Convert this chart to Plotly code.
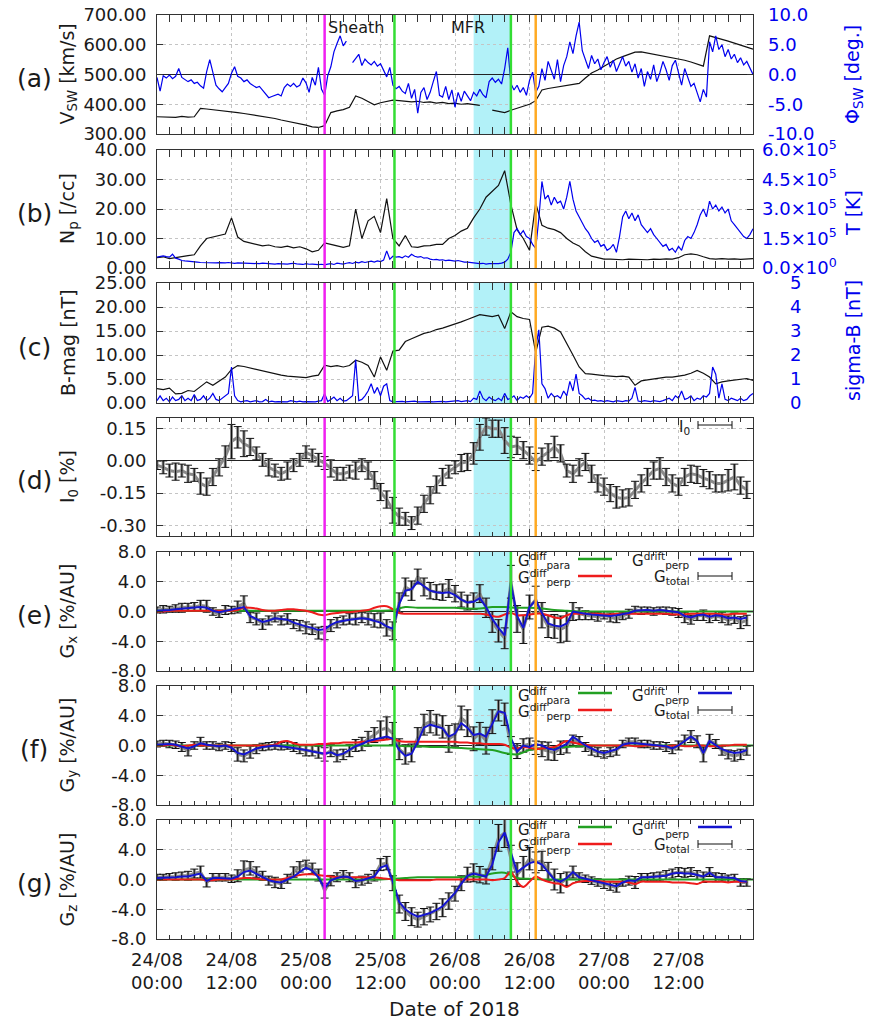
import pandas as pd
import plotly.graph_objects as go

START = pd.Timestamp("2018-08-24 00:00")
END = pd.Timestamp("2018-08-28 00:00")

# ---------------- event markers ----------------
t_sheath = "2018-08-25 03:00"      # magenta
t_mfr_start = "2018-08-25 14:15"   # green
t_mfr_end = "2018-08-26 09:00"     # green
t_orange = "2018-08-26 13:00"      # orange
cyan_start = "2018-08-26 03:00"
cyan_end = "2018-08-26 09:00"

# ---------------- x ticks ----------------
x_tick_times = ["2018-08-24 00:00", "2018-08-24 12:00", "2018-08-25 00:00", "2018-08-25 12:00",
                "2018-08-26 00:00", "2018-08-26 12:00", "2018-08-27 00:00", "2018-08-27 12:00"]
x_tick_text = ["24/08<br>00:00", "24/08<br>12:00", "25/08<br>00:00", "25/08<br>12:00",
               "26/08<br>00:00", "26/08<br>12:00", "27/08<br>00:00", "27/08<br>12:00"]

# ---------------- panel (a): hourly V_sw, half-hourly Phi ----------------
v_sw = [358, 357, 358, 356, 359, 357, 358, 386, 384, 382,
        380, 378, 376, 372, 369, 366, 362, 358, 355, 352,
        347, 343, 339, 335, 330, 324, 322, 328, 372, 378,
        382, 390, 428, 420, 408, 398, 405, 410, 414, 412,
        410, 408, 410, 406, 408, 404, 406, 402, 404, 400,
        402, 398, 396, None, 380, 375, 372, 380, 386, 392,
        400, 412, 448, 453, 456, 459, 462, 466, 470, 488,
        505, 515, 528, 540, 552, 560, 568, 575, 576, 572,
        568, 565, 560, 557, 554, 548, 542, 536, 528, 630,
        625, 618, 612, 606, 600, 592, 585]

phi_sw = [-0.5, -2.8, -0.2, -0.6, -0.1, -0.7, -0.3, 1.0, -0.5, -0.8,
          -1.2, -0.9, -1.5, -1.3, -1.9, -2.3, 0.5, 2.5, 0.2, -1.8,
          -2.4, -2.9, -2.2, -1.5, 0.2, 1.3, -0.3, -0.6, -1.2, -0.9,
          -1.5, -1.8, -2.2, -2.0, -2.6, -3.3, -3.9, -3.7, -3.5, -3.3,
          -3.6, -2.2, -1.6, -2.0, -1.5, -2.1, -1.8, -0.6, -1.4, -3.0,
          -0.5, -1.8, 1.2, -2.5, -3.5, -0.2, 1.3, 3.8, 5.2, 6.5,
          4.8, 5.6, None, 2.0, 2.8, 3.4, 1.5, 2.6, 2.0, 1.6,
          2.2, 1.4, 1.8, 0.6, -0.4, 1.2, -1.8, -2.4, -2.0, -2.8,
          -3.2, -1.5, -4.0, -2.5, -6.5, -3.0, -2.2, -4.2, -3.0, -1.2,
          0.5, -3.5, -3.8, -2.0, -4.2, -2.6, -5.5, -3.0, -4.5, -2.8,
          -3.6, -4.4, -3.0, -3.6, -2.5, -3.4, -3.9, -1.2, -0.6, -1.3,
          -0.8, -1.6, 1.0, 4.5, -1.5, -2.6, -1.8, -3.0, -2.2, -3.5,
          -1.0, 0.4, -3.0, -2.0, 1.0, -1.0, 2.2, 0.5, -0.8, 2.5,
          -1.2, 1.5, 3.0, 5.5, 3.5, 6.5, 8.8, 4.0, 2.5, 1.0,
          3.2, 1.8, 2.6, 0.8, 2.0, 3.0, 1.2, 2.4, 0.5, 1.8,
          3.0, 1.4, 2.2, 0.4, 1.8, -0.6, 1.0, -2.0, 0.5, -0.8,
          1.6, -1.2, 0.3, 2.2, 0.8, -1.0, 1.5, 2.4, 0.2, -1.8,
          1.0, -0.5, -2.0, -1.5, -3.0, -4.6, -2.5, -3.8, 5.5, 3.8,
          6.5, 4.2, 5.0, 3.0, 4.2, 2.6, 3.4, 2.0, 2.8, 1.6,
          2.2, 1.0, 0.0]

# ---------------- panel (b): hourly Np, half-hourly T (x 1e5 K) ----------------
n_p = [3.5, 3.8, 3.2, 3.6, 4.0, 4.2, 4.5, 7.5, 10.0, 10.5,
       11.0, 11.5, 17.0, 10.5, 9.0, 8.5, 7.8, 7.5, 7.8, 7.2,
       7.0, 7.4, 6.8, 7.2, 6.5, 5.5, 6.0, 8.5, 8.0, 7.5,
       7.0, 7.5, 20.0, 10.0, 16.0, 17.5, 12.0, 23.5, 10.0, 7.5,
       11.0, 7.2, 7.0, 7.5, 7.6, 8.0, 8.0, 10.0, 11.0, 12.5,
       13.5, 17.0, 20.0, 24.0, 26.0, 28.0, 33.0, 21.5, 13.0, 10.0,
       6.0, 22.0, 14.5, 13.5, 13.0, 12.0, 10.0, 8.5, 7.5, 5.5,
       4.0, 3.5, 3.0, 3.0, 2.9, 2.8, 3.0, 2.9, 3.0, 2.8,
       3.0, 2.9, 3.1, 3.0, 3.5, 4.5, 4.8, 4.5, 3.8, 3.2,
       3.0, 3.2, 3.0, 3.1, 2.9, 3.0, 3.2]

temp_1e5 = [0.55, 0.6, 0.62, 0.58, 0.55, 0.7, 0.5, 0.45, 0.38, 0.36,
            0.35, 0.33, 0.34, 0.3, 0.28, 0.27, 0.26, 0.28, 0.25, 0.26,
            0.27, 0.25, 0.26, 0.28, 0.25, 0.24, 0.26, 0.25, 0.27, 0.24,
            0.25, 0.23, 0.24, 0.22, 0.25, 0.23, 0.24, 0.22, 0.2, 0.22,
            0.21, 0.23, 0.2, 0.22, 0.24, 0.21, 0.2, 0.18, 0.22, 0.19,
            0.2, 0.18, 0.17, 0.19, 0.16, 0.2, 0.22, 0.18, 0.25, 0.22,
            0.2, 0.24, 0.27, 0.23, 0.3, 0.26, 0.32, 0.28, 0.3, 0.35,
            0.3, 0.36, 0.33, 0.4, 0.87, 0.45, 0.6, 0.55, 0.58, 0.52,
            0.62, 0.55, 0.7, 0.6, 0.55, 0.58, 0.5, 0.52, 0.45, 0.42,
            0.44, 0.4, 0.42, 0.38, 0.4, 0.36, 0.35, 0.38, 0.32, 0.3,
            0.3, 0.28, 0.25, 0.23, 0.22, 0.24, 0.2, 0.22, 0.21, 0.23,
            0.22, 0.25, 0.3, 0.45, 0.8, 1.8, 2.0, 1.7, 1.9, 1.6,
            1.5, 1.2, 1.0, 2.5, 4.4, 3.5, 3.7, 3.2, 3.6, 3.3,
            3.4, 3.0, 3.6, 4.4, 3.5, 2.9, 2.6, 2.3, 2.0, 1.8,
            1.5, 1.3, 1.4, 1.1, 1.2, 0.9, 1.0, 1.2, 0.8, 1.6,
            2.6, 2.9, 2.5, 2.8, 2.4, 2.7, 2.2, 2.0, 1.8, 2.0,
            1.7, 1.5, 1.3, 1.1, 1.2, 0.9, 1.0, 0.8, 1.1, 0.9,
            1.4, 1.6, 1.5, 1.8, 2.2, 2.7, 3.0, 2.6, 3.4, 3.0,
            3.2, 2.9, 3.1, 2.8, 3.0, 2.4, 2.2, 2.0, 1.8, 1.6,
            1.5, 1.7, 2.0]

# ---------------- panel (c): hourly B, half-hourly sigma-B ----------------
b_mag = [3.0, 2.8, 3.1, 1.9, 2.0, 2.6, 2.4, 3.5, 4.4, 3.7,
         4.5, 5.4, 7.0, 7.8, 7.6, 7.3, 6.9, 6.6, 6.3, 6.1,
         5.8, 5.6, 5.5, 5.4, 5.3, 5.6, 5.8, 7.9, 7.6, 7.8,
         7.5, 7.8, 8.9, 8.5, 7.8, 5.4, 9.6, 6.8, 10.8, 11.0,
         12.8, 13.4, 14.0, 14.5, 14.8, 15.3, 15.6, 16.0, 16.4, 16.9,
         17.4, 17.9, 18.4, 18.2, 18.0, 18.3, 15.5, 19.0, 18.0, 17.6,
         17.4, 10.5, 15.8, 16.0, 15.6, 14.8, 12.5, 10.0, 7.5, 6.1,
         6.0, 5.8, 5.7, 5.6, 5.5, 5.6, 5.4, 3.7, 4.6, 4.8,
         5.0, 5.2, 5.4, 5.4, 5.6, 5.8, 6.2, 6.8, 6.2, 5.4,
         4.0, 4.4, 4.6, 4.8, 5.0, 5.1, 4.7]

sigma_b = [0.1, 0.3, 0.1, 0.2, 0.05, 0.25, 0.1, 0.15, 0.3, 0.1,
           0.2, 0.1, 0.35, 0.1, 0.15, 0.3, 0.1, 0.2, 0.4, 0.15,
           0.1, 0.2, 0.3, 0.4, 1.5, 0.3, 0.1, 0.05, 0.08, 0.1,
           0.05, 0.08, 0.1, 0.05, 0.06, 0.15, 0.05, 0.08, 0.05, 0.06,
           0.05, 0.07, 0.05, 0.1, 0.06, 0.05, 0.08, 0.05, 0.06, 0.05,
           0.06, 0.05, 0.08, 0.1, 0.4, 0.06, 0.15, 0.25, 0.1, 0.2,
           0.08, 0.1, 0.2, 0.3, 1.8, 0.1, 0.15, 0.3, 0.5, 0.8,
           0.4, 0.65, 0.3, 0.7, 0.8, 0.1, 0.05, 0.06, 0.05, 0.07,
           0.05, 0.06, 0.05, 0.08, 0.05, 0.06, 0.05, 0.05, 0.06, 0.05,
           0.06, 0.05, 0.07, 0.05, 0.06, 0.05, 0.08, 0.1, 0.06, 0.08,
           0.1, 0.06, 0.2, 0.15, 0.5, 0.2, 0.1, 0.25, 0.15, 0.1,
           0.2, 0.1, 0.4, 0.15, 0.2, 0.3, 0.1, 0.25, 0.2, 0.3,
           0.2, 0.4, 2.3, 3.05, 0.8, 0.6, 0.2, 0.4, 0.25, 0.3,
           0.2, 0.5, 0.3, 0.9, 0.5, 1.2, 0.4, 0.3, 0.15, 0.2,
           0.1, 0.12, 0.08, 0.1, 0.06, 0.1, 0.08, 0.05, 0.1, 0.08,
           0.06, 0.1, 0.08, 0.2, 0.65, 0.08, 0.06, 0.1, 0.08, 0.06,
           0.1, 0.08, 0.06, 0.1, 0.15, 0.2, 0.1, 0.3, 0.2, 0.5,
           0.15, 0.2, 0.3, 0.1, 0.2, 0.15, 0.3, 0.25, 0.4, 1.5,
           1.2, 0.2, 0.8, 0.15, 0.1, 0.2, 0.15, 0.1, 0.2, 0.1,
           0.15, 0.3, 0.4]

# ---------------- panel (d): hourly I0 ----------------
i0 = [-0.02, -0.03, -0.045, -0.05, -0.045, -0.06, -0.065, -0.105, -0.12, -0.075,
      -0.03, 0.02, 0.09, 0.11, 0.08, 0.065, 0.035, 0.005, -0.03, -0.045,
      -0.06, -0.045, -0.02, 0.005, 0.04, 0.025, 0.005, -0.01, -0.035, -0.06,
      -0.06, -0.05, -0.045, -0.02, -0.045, -0.09, -0.145, -0.18, -0.23, -0.26,
      -0.27, -0.29, -0.255, -0.2, -0.16, -0.11, -0.075, -0.05, -0.03, -0.01,
      -0.005, 0.035, 0.11, 0.16, 0.15, 0.15, 0.095, 0.065, 0.07, 0.05,
      0.025, -0.005, 0.02, 0.04, 0.065, 0.035, -0.045, -0.06, -0.03, -0.005,
      -0.06, -0.105, -0.12, -0.15, -0.17, -0.175, -0.17, -0.135, -0.105, -0.075,
      -0.045, -0.035, -0.075, -0.105, -0.12, -0.075, -0.06, -0.065, -0.08, -0.09,
      -0.105, -0.105, -0.09, -0.075, -0.115, -0.135]
i0_err = [0.02, 0.03, 0.03, 0.04, 0.03, 0.04, 0.03, 0.05, 0.04, 0.04,
          0.04, 0.05, 0.08, 0.05, 0.06, 0.04, 0.03, 0.03, 0.04, 0.03,
          0.03, 0.04, 0.03, 0.03, 0.03, 0.03, 0.03, 0.03, 0.04, 0.03,
          0.03, 0.03, 0.04, 0.03, 0.04, 0.04, 0.04, 0.04, 0.06, 0.04,
          0.03, 0.03, 0.04, 0.04, 0.04, 0.04, 0.04, 0.03, 0.03, 0.04,
          0.04, 0.05, 0.06, 0.04, 0.04, 0.04, 0.06, 0.05, 0.04, 0.04,
          0.04, 0.04, 0.04, 0.04, 0.05, 0.04, 0.03, 0.04, 0.04, 0.04,
          0.04, 0.04, 0.04, 0.04, 0.05, 0.04, 0.04, 0.04, 0.04, 0.04,
          0.04, 0.05, 0.04, 0.04, 0.04, 0.04, 0.04, 0.04, 0.04, 0.04,
          0.04, 0.04, 0.05, 0.06, 0.04, 0.04]

# ---------------- panel (e): Gx (hourly; para every 2 h) ----------------
gx_total = [0.2, 0.3, 0.3, 0.4, 0.5, 0.6, 0.6, 0.8, 0.7, 0.0,
            -0.3, 0.2, 0.2, 0.6, 1.1, -0.8, -1.0, -1.7, -1.2, -0.8,
            -1.2, -1.0, -1.7, -1.9, -2.2, -2.4, -2.9, -2.9, -1.9, -1.5,
            -1.2, -1.0, -1.0, -0.8, -1.0, -1.2, -1.2, -2.2, -2.6, 1.2,
            3.3, 2.8, 4.7, 3.3, 2.8, 2.6, 2.6, 3.1, 2.4, 1.6,
            1.2, 1.4, 2.4, 0.5, -1.4, -2.6, -3.6, 4.0, -1.0, -2.4,
            0.6, 1.6, -0.5, -2.0, -2.0, -2.4, -2.0, 0.0, -0.3, -0.5,
            -0.6, -0.7, -0.5, -0.8, -1.0, -0.6, -0.3, 0.2, 0.1, 0.2,
            0.0, 0.2, 0.1, 0.0, -0.2, -0.8, -1.1, -0.6, -0.5, -0.9,
            -0.6, -0.8, -1.2, -0.9, -1.5, -1.2]
gx_err = [0.4, 0.5, 0.4, 0.5, 0.6, 0.5, 0.6, 0.7, 0.8, 0.5,
          0.5, 0.6, 0.5, 0.8, 1.0, 0.7, 0.8, 0.7, 0.6, 0.6,
          0.6, 0.7, 0.6, 0.7, 0.8, 0.7, 0.8, 0.9, 0.8, 0.7,
          0.6, 0.7, 0.8, 0.7, 0.8, 0.9, 1.0, 1.1, 1.2, 1.3,
          1.2, 1.3, 1.0, 1.2, 1.1, 1.0, 1.1, 1.2, 1.1, 1.0,
          1.0, 1.1, 1.2, 1.3, 1.4, 1.5, 1.4, 2.2, 1.8, 1.9,
          1.6, 1.8, 1.7, 1.5, 1.6, 1.8, 2.0, 1.2, 0.8, 0.6,
          0.5, 0.6, 0.5, 0.6, 0.5, 0.5, 0.6, 0.5, 0.5, 0.4,
          0.5, 0.4, 0.5, 0.5, 0.6, 0.7, 0.6, 0.6, 0.7, 0.6,
          0.6, 0.7, 0.6, 0.7, 0.8, 0.7]
gx_drift = [0.1, 0.2, 0.2, 0.3, 0.4, 0.5, 0.5, 0.6, 0.5, 0.1,
            -0.1, 0.1, 0.2, 0.4, 0.6, -0.6, -1.0, -1.4, -1.2, -0.9,
            -1.0, -1.1, -1.5, -1.8, -2.0, -2.2, -2.5, -2.4, -1.8, -1.4,
            -1.2, -1.1, -1.0, -0.9, -1.0, -1.3, -1.5, -2.0, -2.3, 1.0,
            2.8, 3.0, 4.0, 3.4, 2.8, 2.6, 2.5, 2.6, 2.2, 1.6,
            1.2, 1.3, 1.8, 0.6, -1.0, -2.2, -3.2, 3.8, -0.6, -2.2,
            0.6, 1.5, -0.2, -1.6, -1.9, -2.0, -1.6, 0.0, -0.2, -0.3,
            -0.4, -0.5, -0.5, -0.6, -0.5, -0.4, -0.2, 0.1, 0.2, 0.2,
            0.1, 0.2, 0.1, 0.0, -0.1, -0.6, -0.8, -0.5, -0.4, -0.7,
            -0.5, -0.6, -0.9, -0.8, -1.0, -0.8]
gx_diff_perp = [0.0, 0.0, 0.1, 0.1, 0.1, 0.1, 0.1, 0.1, 0.1, 0.1,
                0.1, 0.1, 0.1, 0.2, 0.5, 0.5, 0.4, 0.2, 0.1, 0.1,
                0.2, 0.3, 0.3, 0.2, 0.1, -0.1, -0.4, -0.5, -0.3, -0.2,
                -0.1, -0.1, 0.0, 0.1, 0.2, 0.5, 0.7, 0.7, 0.3, -0.2,
                -0.3, -0.3, -0.3, -0.3, -0.3, -0.3, -0.3, -0.3, -0.3, -0.3,
                -0.3, -0.3, -0.3, -0.4, -0.6, -0.7, -0.4, -0.2, -0.5, -0.5,
                -0.4, -0.3, -0.3, -0.5, -0.8, -0.9, -0.5, -0.3, -0.3, -0.3,
                -0.3, -0.3, -0.4, -0.4, -0.3, -0.3, -0.3, -0.3, -0.3, -0.3,
                -0.3, -0.3, -0.3, -0.4, -0.4, -0.4, -0.3, -0.3, -0.3, -0.3,
                -0.3, -0.4, -0.4, -0.3, -0.3, -0.3]
gx_diff_para = [0.1, 0.1, 0.1, 0.1, 0.1, 0.1, 0.1, 0.1, 0.1, 0.1,
                0.1, 0.1, 0.1, 0.1, 0.1, 0.1, 0.1, 0.1, 0.1, 0.2,
                0.6, 0.5, 0.5, 0.5, 0.5, 0.4, 0.4, 0.6, 0.6, 0.5,
                0.5, 0.4, 0.2, 0.1, 0.0, 0.0, 0.0, 0.0, 0.0, 0.0,
                0.0, 0.0, 0.0, 0.0, 0.0, 0.0, 0.0, 0.0, 0.0]

# ---------------- panel (f): Gy ----------------
gy_total = [0.2, 0.3, 0.2, 0.1, -0.2, -0.7, 0.0, 0.5, 0.0, 0.0,
            -0.2, 0.0, -0.2, -1.2, -1.4, -0.9, -0.5, -0.2, -0.1, 0.0,
            -0.1, 0.0, -0.2, -0.5, -0.7, -0.7, -0.9, -1.2, -0.7, -1.4,
            -1.2, -0.7, 0.0, 0.2, 0.9, 1.4, 2.1, 2.35, 1.6, -0.5,
            -1.2, -1.0, 1.1, 2.8, 3.2, 2.8, 2.5, 0.9, 1.4, 3.7,
            3.0, 0.9, 1.6, 0.65, 3.2, 4.7, 4.2, 0.0, -0.75, 0.0,
            0.2, -0.3, -0.5, -0.75, -1.0, -0.3, -0.2, 0.7, 0.5, -0.2,
            -0.7, -0.9, -1.2, -0.9, -0.7, 0.2, 0.5, 0.5, 0.2, 0.2,
            0.0, 0.0, -0.2, -0.5, 0.0, 0.7, 1.2, 0.5, -1.2, 0.7,
            0.2, -0.7, -1.2, -1.4, -1.2, -0.7]
gy_err = [0.4, 0.4, 0.5, 0.5, 0.6, 0.7, 0.5, 0.6, 0.5, 0.5,
          0.5, 0.5, 0.6, 0.9, 0.8, 0.8, 0.6, 0.5, 0.5, 0.5,
          0.5, 0.5, 0.6, 0.6, 0.7, 0.7, 0.8, 0.9, 0.8, 0.8,
          0.7, 0.8, 0.8, 0.9, 1.0, 1.0, 1.2, 1.5, 1.5, 1.4,
          1.3, 1.2, 1.3, 1.4, 1.5, 1.4, 1.5, 1.8, 1.5, 1.6,
          1.8, 1.6, 1.5, 1.8, 1.6, 1.4, 1.5, 1.2, 1.0, 0.9,
          0.8, 0.9, 1.0, 1.2, 1.0, 0.9, 0.8, 0.7, 0.7, 0.6,
          0.6, 0.6, 0.5, 0.6, 0.6, 0.5, 0.5, 0.5, 0.5, 0.5,
          0.5, 0.5, 0.6, 0.6, 0.6, 0.7, 0.8, 0.8, 1.0, 0.8,
          0.6, 0.6, 0.6, 0.7, 0.7, 0.6]
gy_drift = [0.1, 0.2, 0.2, 0.1, -0.1, -0.4, -0.1, 0.3, 0.1, 0.0,
            -0.1, 0.0, -0.3, -1.0, -1.2, -0.8, -0.4, -0.2, -0.1, 0.0,
            -0.1, -0.2, -0.4, -0.5, -0.6, -0.8, -1.0, -1.1, -0.9, -1.3,
            -1.1, -0.6, -0.1, 0.2, 0.6, 0.8, 1.0, 1.2, 0.9, -0.6,
            -1.4, -1.1, 0.5, 2.4, 2.8, 2.6, 2.3, 1.2, 1.6, 3.0,
            2.4, 1.4, 1.6, 1.2, 2.8, 4.6, 4.4, 1.0, -0.8, 0.0,
            -0.2, 0.2, 0.0, -0.4, -0.6, -0.2, 0.2, 1.2, 0.6, 0.0,
            -0.4, -0.8, -1.0, -0.8, -0.5, 0.1, 0.3, 0.3, 0.2, 0.2,
            0.1, 0.0, -0.1, -0.4, 0.0, 0.6, 1.2, 0.6, -1.0, 0.6,
            0.1, -0.5, -0.8, -1.0, -0.9, -0.6]
gy_diff_perp = [0.0, 0.0, 0.1, 0.0, -0.1, 0.0, 0.1, 0.0, 0.0, 0.0,
                0.0, 0.0, 0.0, 0.0, 0.0, 0.0, 0.0, 0.0, 0.0, 0.1,
                0.5, 0.6, 0.3, 0.1, 0.1, 0.1, 0.2, 0.2, 0.3, 0.3,
                0.4, 0.4, 0.4, 0.5, 0.5, 0.6, 0.7, 0.8, 0.9, 0.6,
                0.5, 0.5, 0.5, 0.5, 0.5, 0.5, 0.5, 0.5, 0.5, 0.4,
                0.4, 0.3, 0.3, 0.2, 0.2, 0.2, 0.1, -0.3, -0.4, -0.2,
                -0.3, -0.5, -0.4, -0.3, -0.2, 0.2, 0.6, 0.4, 0.2, 0.1,
                0.0, 0.0, 0.0, 0.0, 0.0, 0.0, 0.0, -0.1, -0.1, 0.0,
                0.0, -0.1, -0.1, 0.0, 0.0, -0.1, -0.1, 0.0, 0.0, -0.1,
                -0.1, 0.0, 0.0, 0.1, 0.1, 0.1]
gy_diff_para = [0.0, 0.0, 0.0, 0.0, 0.0, 0.0, 0.0, 0.0, 0.0, 0.0,
                0.0, 0.0, 0.0, 0.0, 0.0, 0.0, 0.0, 0.0, 0.0, 0.0,
                -0.1, -0.1, -0.2, -0.2, -0.3, -0.4, -0.5, -0.6, -1.0, -1.2,
                -0.6, -0.4, -0.3, -0.2, -0.1, 0.0, 0.0, 0.0, 0.0, 0.0,
                0.0, 0.0, 0.0, 0.0, 0.0, 0.0, 0.0, 0.0, 0.0]

# ---------------- panel (g): Gz ----------------
gz_total = [0.3, 0.3, 0.4, 0.4, 0.5, 0.5, 0.8, 1.0, -0.4, 0.3,
            0.3, 0.3, 0.1, 0.5, 1.3, 1.5, 1.0, 0.5, -0.15, -0.4,
            -0.6, 0.1, 1.0, 1.7, 2.0, 1.5, 0.6, -1.5, -0.15, 0.3,
            0.6, 0.3, -0.4, -0.15, 0.1, 0.5, 2.0, 2.2, -0.5, -3.3,
            -4.3, -5.0, -5.4, -5.0, -4.7, -4.3, -3.8, -2.9, -1.9, -0.5,
            0.65, 0.9, 0.65, 0.4, 2.8, 5.6, 6.3, 2.8, 0.65, 1.6,
            2.8, 2.3, 2.5, 1.1, 0.0, -0.5, 0.1, 1.0, 0.3, 0.1,
            -0.15, -0.4, -0.6, -0.85, -1.1, -0.4, -0.15, -0.4, 0.3, 0.3,
            0.4, 0.4, 0.6, 0.8, 1.0, 0.9, 1.0, 0.6, 0.3, 1.0,
            0.3, 0.3, 0.1, 0.2, -0.4, -0.4]
gz_err = [0.4, 0.4, 0.4, 0.5, 0.5, 0.6, 0.6, 0.8, 0.6, 0.5,
          0.5, 0.5, 0.5, 0.8, 1.2, 0.9, 0.7, 0.6, 0.6, 0.7,
          0.6, 0.6, 0.7, 0.7, 0.6, 0.7, 0.8, 1.0, 0.7, 0.6,
          0.6, 0.6, 0.7, 0.6, 0.6, 0.7, 0.8, 0.9, 1.0, 1.2,
          1.2, 1.2, 1.0, 1.1, 1.0, 1.1, 1.2, 1.1, 1.0, 1.0,
          1.0, 1.2, 1.1, 1.0, 1.5, 1.8, 2.0, 1.8, 1.6, 1.5,
          1.5, 1.4, 1.3, 1.2, 1.4, 1.3, 0.9, 0.8, 0.6, 0.5,
          0.5, 0.5, 0.6, 0.6, 0.6, 0.5, 0.6, 0.8, 0.5, 0.5,
          0.5, 0.6, 0.6, 0.6, 0.6, 0.6, 0.6, 0.6, 0.7, 0.6,
          0.6, 0.5, 0.5, 0.5, 0.5, 0.5]
gz_drift = [0.2, 0.2, 0.3, 0.3, 0.4, 0.4, 0.6, 0.8, -0.2, 0.2,
            0.2, 0.2, 0.1, 0.4, 1.0, 1.2, 0.8, 0.4, -0.1, -0.3,
            -0.4, 0.0, 0.4, 1.0, 1.6, 1.2, 0.3, -1.2, -0.1, 0.2,
            0.4, 0.3, -0.2, -0.1, 0.1, 0.4, 1.6, 1.9, -0.3, -3.0,
            -4.0, -4.6, -5.0, -4.8, -4.5, -4.1, -3.6, -2.7, -1.8, -0.6,
            0.5, 0.8, 0.6, 0.4, 2.0, 5.0, 6.3, 3.5, 1.0, 1.6,
            2.2, 2.4, 2.0, 1.0, 0.0, -0.3, 0.2, 1.0, 0.3, 0.1,
            -0.1, -0.3, -0.5, -0.7, -0.9, -0.4, -0.1, -0.2, 0.3, 0.3,
            0.4, 0.4, 0.5, 0.8, 0.9, 0.8, 0.8, 0.6, 0.4, 0.9,
            0.3, 0.3, 0.2, 0.2, -0.2, -0.3]
gz_diff_perp = [0.0, 0.0, 0.0, 0.0, 0.0, 0.0, 0.0, 0.0, -0.1, -0.1,
                0.0, 0.0, 0.0, 0.1, 0.2, 0.2, 0.1, 0.0, 0.0, 0.0,
                0.0, 0.2, 0.4, 0.6, 0.7, 0.7, 0.6, 0.5, 0.4, 0.3,
                0.3, 0.3, 0.3, 0.3, 0.3, 0.3, 0.2, 0.1, 0.0, -0.1,
                -0.1, -0.1, -0.1, -0.1, -0.1, 0.0, 0.0, 0.0, 0.0, 0.0,
                0.0, 0.0, 0.0, 0.0, -0.1, 0.0, 0.2, 1.0, -0.3, -1.0,
                -0.3, 0.4, 0.0, -0.3, -0.5, -0.6, -1.0, -0.5, -0.3, -0.2,
                -0.2, -0.2, -0.3, -0.3, -0.3, -0.3, -0.4, -0.6, -0.3, -0.3,
                -0.3, -0.3, -0.3, -0.4, -0.4, -0.4, -0.5, -0.6, -0.3, -0.3,
                -0.3, -0.3, -0.4, -0.3, -0.3, -0.3]
gz_diff_para = [0.0, 0.0, 0.0, 0.0, 0.0, 0.0, 0.0, 0.0, 0.0, 0.0,
                0.0, 0.0, 0.0, 0.0, 0.0, 0.0, 0.0, 0.0, 0.0, 0.1,
                0.2, 0.3, 0.3, 0.3, 0.3, 0.4, 0.4, 0.8, 0.9, 0.2,
                0.1, 0.0, 0.0, 0.0, 0.0, 0.0, 0.0, 0.0, 0.0, 0.0,
                0.0, 0.0, 0.0, 0.0, 0.0, 0.0, 0.0, 0.0, 0.0]

# ---------------- y tick labels ----------------
v_ticks = [300, 400, 500, 600, 700]
v_ticktext = ["300.00", "400.00", "500.00", "600.00", "700.00"]
phi_ticks = [-10, -5, 0, 5, 10]
phi_ticktext = ["-10.0", "-5.0", "0.0", "5.0", "10.0"]
np_ticks = [0, 10, 20, 30, 40]
np_ticktext = ["0.00", "10.00", "20.00", "30.00", "40.00"]
t_ticks = [0, 1.5, 3.0, 4.5, 6.0]
t_ticktext = ["0.0×10<sup>0</sup>", "1.5×10<sup>5</sup>", "3.0×10<sup>5</sup>",
              "4.5×10<sup>5</sup>", "6.0×10<sup>5</sup>"]
b_ticks = [0, 5, 10, 15, 20, 25]
b_ticktext = ["0.00", "5.00", "10.00", "15.00", "20.00", "25.00"]
sb_ticks = [0, 1, 2, 3, 4, 5]
sb_ticktext = ["0", "1", "2", "3", "4", "5"]
i0_ticks = [-0.30, -0.15, 0.0, 0.15]
i0_ticktext = ["-0.30", "-0.15", "0.00", "0.15"]
g_ticks = [-8, -4, 0, 4, 8]
g_ticktext = ["-8.0", "-4.0", "0.0", "4.0", "8.0"]


def tgrid(n, step_h):
    return [START + pd.Timedelta(hours=step_h * i) for i in range(n)]


BLACK = "#111111"
BLUE = "#0000ee"
GREEN = "#22a022"
RED = "#ee1c1c"
DRIFT = "#1515d0"
GREY = "#8a8a8a"

fig = go.Figure()

# panel a
fig.add_trace(go.Scatter(x=tgrid(len(v_sw), 1), y=v_sw, mode="lines", line=dict(color=BLACK, width=1.2),
                         xaxis="x", yaxis="y"))
fig.add_trace(go.Scatter(x=tgrid(len(phi_sw), 0.5), y=phi_sw, mode="lines",
                         line=dict(color=BLUE, width=1.2), xaxis="x", yaxis="y8"))
# panel b
fig.add_trace(go.Scatter(x=tgrid(len(n_p), 1), y=n_p, mode="lines", line=dict(color=BLACK, width=1.2),
                         xaxis="x2", yaxis="y2"))
fig.add_trace(go.Scatter(x=tgrid(len(temp_1e5), 0.5), y=temp_1e5, mode="lines",
                         line=dict(color=BLUE, width=1.2), xaxis="x2", yaxis="y9"))
# panel c
fig.add_trace(go.Scatter(x=tgrid(len(b_mag), 1), y=b_mag, mode="lines", line=dict(color=BLACK, width=1.2),
                         xaxis="x3", yaxis="y3"))
fig.add_trace(go.Scatter(x=tgrid(len(sigma_b), 0.5), y=sigma_b, mode="lines",
                         line=dict(color=BLUE, width=1.2), xaxis="x3", yaxis="y10"))
# panel d
fig.add_trace(go.Scatter(x=tgrid(len(i0), 1), y=i0, mode="lines", line=dict(color=GREY, width=3),
                         error_y=dict(type="data", array=i0_err, color=GREY, thickness=3, width=0),
                         xaxis="x4", yaxis="y4"))
fig.add_trace(go.Scatter(x=tgrid(len(i0), 1), y=i0, mode="markers", marker=dict(size=1, color=BLACK),
                         error_y=dict(type="data", array=i0_err, color=BLACK, thickness=1, width=4),
                         xaxis="x4", yaxis="y4"))

# panels e-g
g_sets = [
    (gx_total, gx_err, gx_drift, gx_diff_perp, gx_diff_para, "x5", "y5"),
    (gy_total, gy_err, gy_drift, gy_diff_perp, gy_diff_para, "x6", "y6"),
    (gz_total, gz_err, gz_drift, gz_diff_perp, gz_diff_para, "x7", "y7"),
]
for tot, err, drift, perp, para, xa, ya in g_sets:
    tt = tgrid(len(tot), 1)
    fig.add_trace(go.Scatter(x=tt, y=tot, mode="lines", line=dict(color=GREY, width=3),
                             error_y=dict(type="data", array=err, color=GREY, thickness=3, width=0),
                             xaxis=xa, yaxis=ya))
    fig.add_trace(go.Scatter(x=tt, y=tot, mode="markers", marker=dict(size=1, color=BLACK),
                             error_y=dict(type="data", array=err, color=BLACK, thickness=1, width=4),
                             xaxis=xa, yaxis=ya))
    fig.add_trace(go.Scatter(x=tgrid(len(para), 2), y=para, mode="lines",
                             line=dict(color=GREEN, width=2, shape="spline"), xaxis=xa, yaxis=ya))
    fig.add_trace(go.Scatter(x=tgrid(len(perp), 1), y=perp, mode="lines",
                             line=dict(color=RED, width=2, shape="spline"), xaxis=xa, yaxis=ya))
    fig.add_trace(go.Scatter(x=tt, y=drift, mode="lines", line=dict(color=DRIFT, width=2),
                             xaxis=xa, yaxis=ya))

# ---------------- layout ----------------
W, H = 871, 1022
L, R, T, B = 157, 118, 15, 83
PW = W - L - R
PH = H - T - B
panel_px = [(15, 134), (150, 268), (283, 403), (418, 536), (552, 671), (686, 805), (820, 939)]


def py(p):
    return (H - B - p) / PH


def px(p):
    return (p - L) / PW


layout = dict(width=W, height=H, margin=dict(l=L, r=R, t=T, b=B, autoexpand=False),
              paper_bgcolor="white", plot_bgcolor="white", showlegend=False,
              font=dict(family="DejaVu Sans", size=18, color="#1a1a1a"))

AX = "#333333"
GRID = "#c4c4c4"
for i in range(1, 8):
    xk = "xaxis" if i == 1 else f"xaxis{i}"
    xa = dict(domain=[0, 1], anchor="y" if i == 1 else f"y{i}", type="date",
              range=[START, END], tickmode="array", tickvals=x_tick_times, ticktext=x_tick_text,
              ticks="inside", ticklen=7, tickcolor=AX, mirror="allticks", showline=True,
              linecolor=AX, linewidth=1, showgrid=True, gridcolor=GRID, griddash="dot",
              zeroline=False, showticklabels=(i == 7), tickfont=dict(size=18),
              ticklabelstandoff=4, automargin=False,
              minor=dict(tickmode="linear", tick0="2018-08-24 00:00", dtick=7200000,
                         ticks="inside", ticklen=4, tickcolor=AX, showgrid=False))
    if i > 1:
        xa["matches"] = "x"
    layout[xk] = xa

left_defs = [
    ([300, 700], v_ticks, v_ticktext),
    ([0, 40], np_ticks, np_ticktext),
    ([0, 25], b_ticks, b_ticktext),
    ([-0.35, 0.2], i0_ticks, i0_ticktext),
    ([-8, 8], g_ticks, g_ticktext),
    ([-8, 8], g_ticks, g_ticktext),
    ([-8, 8], g_ticks, g_ticktext),
]
for i in range(1, 8):
    yk = "yaxis" if i == 1 else f"yaxis{i}"
    top, bot = panel_px[i - 1]
    rng, tv, tt = left_defs[i - 1]
    ya = dict(domain=[py(bot), py(top)], anchor="x" if i == 1 else f"x{i}", range=rng,
              tickmode="array", tickvals=tv, ticktext=tt, ticks="inside", ticklen=6,
              tickcolor=AX, showline=True, linecolor=AX, linewidth=1,
              mirror=True if i <= 3 else "allticks", automargin=False,
              showgrid=True, gridcolor=GRID, griddash="dot", tickfont=dict(size=18),
              ticklabelstandoff=6, zeroline=(i >= 4), zerolinecolor="#222222", zerolinewidth=1)
    layout[yk] = ya

right_common = dict(side="right", ticks="inside", ticklen=6, tickcolor=AX, showgrid=False,
                    showline=False, tickfont=dict(size=18, color=BLUE), tickmode="array",
                    automargin=False)
layout["yaxis8"] = dict(right_common, overlaying="y", anchor="x", range=[-10, 10],
                        tickvals=phi_ticks, ticktext=phi_ticktext, zeroline=True,
                        zerolinecolor="#222222", zerolinewidth=1, ticklabelstandoff=14)
layout["yaxis9"] = dict(right_common, overlaying="y2", anchor="x2", range=[0, 6],
                        tickvals=t_ticks, ticktext=t_ticktext, zeroline=False, ticklabelstandoff=8)
layout["yaxis10"] = dict(right_common, overlaying="y3", anchor="x3", range=[0, 5],
                         tickvals=sb_ticks, ticktext=sb_ticktext, zeroline=False, ticklabelstandoff=36)

fig.update_layout(**layout)

# ---------------- shapes: events ----------------
shapes = []
for i in range(1, 8):
    xr = "x" if i == 1 else f"x{i}"
    yr = ("y" if i == 1 else f"y{i}") + " domain"
    shapes.append(dict(type="rect", xref=xr, yref=yr, x0=cyan_start, x1=cyan_end, y0=0, y1=1,
                       fillcolor="#b2f1f8", line=dict(width=0), layer="below"))
    for tx, col in [(t_sheath, "#f020f0"), (t_mfr_start, "#33dd33"), (t_mfr_end, "#33dd33"),
                    (t_orange, "#ffaa22")]:
        shapes.append(dict(type="line", xref=xr, yref=yr, x0=tx, x1=tx, y0=0, y1=1,
                           line=dict(color=col, width=2.5), layer="above"))

# legend samples
ann = []
for k, (top, bot) in enumerate(panel_px[4:]):
    y1 = py(top + 7)
    y2 = py(top + 24)
    shapes.append(dict(type="line", xref="paper", yref="paper", x0=px(578), x1=px(612), y0=y1, y1=y1,
                       line=dict(color=GREEN, width=2.5)))
    shapes.append(dict(type="line", xref="paper", yref="paper", x0=px(578), x1=px(612), y0=y2, y1=y2,
                       line=dict(color=RED, width=2.5)))
    shapes.append(dict(type="line", xref="paper", yref="paper", x0=px(698), x1=px(732), y0=y1, y1=y1,
                       line=dict(color=DRIFT, width=2.5)))
    shapes.append(dict(type="line", xref="paper", yref="paper", x0=px(698), x1=px(732), y0=y2, y1=y2,
                       line=dict(color=BLACK, width=1)))
    for xx in (698, 732):
        shapes.append(dict(type="line", xref="paper", yref="paper", x0=px(xx), x1=px(xx),
                           y0=py(top + 20), y1=py(top + 28), line=dict(color=BLACK, width=1)))
    ann.append(dict(text="G<sup>diff</sup><sub>para</sub>", x=px(516), y=py(top + 9), xref="paper",
                    yref="paper", xanchor="left", yanchor="middle", showarrow=False, font=dict(size=15)))
    ann.append(dict(text="G<sup>diff</sup><sub>perp</sub>", x=px(516), y=py(top + 25), xref="paper",
                    yref="paper", xanchor="left", yanchor="middle", showarrow=False, font=dict(size=15)))
    ann.append(dict(text="G<sup>drift</sup><sub>perp</sub>", x=px(692), y=py(top + 9), xref="paper",
                    yref="paper", xanchor="right", yanchor="middle", showarrow=False, font=dict(size=15)))
    ann.append(dict(text="G<sub>total</sub>", x=px(692), y=py(top + 25), xref="paper",
                    yref="paper", xanchor="right", yanchor="middle", showarrow=False, font=dict(size=15)))

# I0 legend
d_top = panel_px[3][0]
shapes.append(dict(type="line", xref="paper", yref="paper", x0=px(698), x1=px(732),
                   y0=py(d_top + 7), y1=py(d_top + 7), line=dict(color=BLACK, width=1)))
for xx in (698, 732):
    shapes.append(dict(type="line", xref="paper", yref="paper", x0=px(xx), x1=px(xx),
                       y0=py(d_top + 3), y1=py(d_top + 11), line=dict(color=BLACK, width=1)))
ann.append(dict(text="I<sub>0</sub>", x=px(692), y=py(d_top + 9), xref="paper", yref="paper",
                xanchor="right", yanchor="middle", showarrow=False, font=dict(size=15)))

# panel labels and titles
labels = ["(a)", "(b)", "(c)", "(d)", "(e)", "(f)", "(g)"]
titles = ["V<sub>SW</sub> [km/s]", "N<sub>p</sub> [/cc]", "B-mag [nT]", "I<sub>0</sub> [%]",
          "G<sub>x</sub> [%/AU]", "G<sub>y</sub> [%/AU]", "G<sub>z</sub> [%/AU]"]
for (top, bot), lab, tit in zip(panel_px, labels, titles):
    cy = (top + bot) / 2
    ann.append(dict(text=lab, x=px(34), y=py(cy + 4), xref="paper", yref="paper",
                    xanchor="center", yanchor="middle", showarrow=False, font=dict(size=25)))
    ann.append(dict(text=tit, x=px(68), y=py(cy), xref="paper", yref="paper", textangle=-90,
                    xanchor="center", yanchor="middle", showarrow=False, font=dict(size=19)))

right_titles = [("Φ<sub>SW</sub> [deg.]", 75), ("T [K]", 213), ("sigma-B [nT]", 341)]
for tit, cy in right_titles:
    ann.append(dict(text=tit, x=px(853), y=py(cy), xref="paper", yref="paper", textangle=-90,
                    xanchor="center", yanchor="middle", showarrow=False,
                    font=dict(size=19, color=BLUE)))

ann.append(dict(text="Sheath", x=px(356), y=py(27), xref="paper", yref="paper", showarrow=False,
                xanchor="center", yanchor="middle", font=dict(size=16)))
ann.append(dict(text="MFR", x=px(468), y=py(27), xref="paper", yref="paper", showarrow=False,
                xanchor="center", yanchor="middle", font=dict(size=16)))
ann.append(dict(text="Date of 2018", x=px(454), y=py(1009), xref="paper", yref="paper",
                showarrow=False, xanchor="center", yanchor="middle", font=dict(size=20)))

fig.update_layout(shapes=shapes, annotations=ann)
fig.write_html("out.html", config={"displayModeBar": False},
               post_script="document.body.style.margin='0px';")
